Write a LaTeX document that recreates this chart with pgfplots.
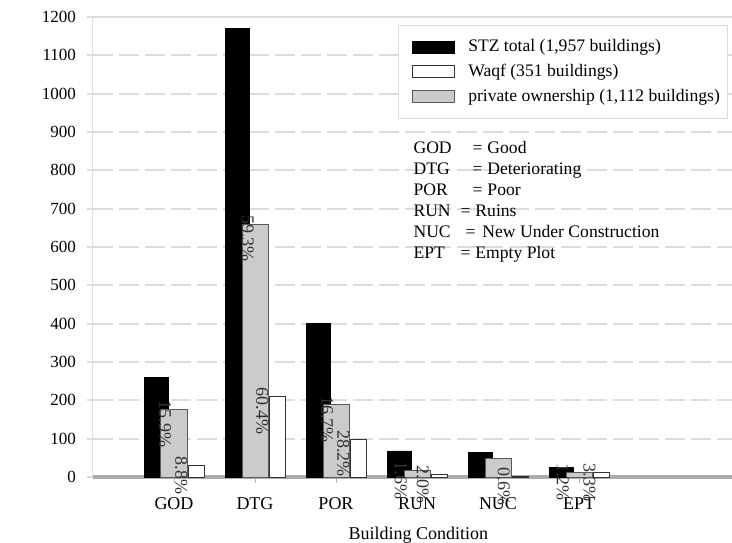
\documentclass[border=0pt]{standalone}
\usepackage{fontspec}
\setmainfont{Liberation Serif}
\usepackage{pgfplots}
\pgfplotsset{compat=1.18}
\definecolor{barGrey}{HTML}{CBCBCB}
\definecolor{gridGrey}{HTML}{DCDCDC}
\pgfplotsset{rectlegend/.style={legend image code/.code={\draw[##1] (5pt,-3pt) rectangle (26pt,3pt); \path[draw=none, fill=none] (0pt,0pt) -- (31pt,0pt);}}}
\begin{document}
\begin{tikzpicture}[pct/.style={rotate=-90, anchor=west, inner sep=0pt, font=\fontsize{9}{10}\selectfont, text=black!80}]
\useasboundingbox (-46.5pt,-32.5pt) rectangle (319.5pt,238.5pt);
\begin{axis}[
  at={(0pt,0pt)}, anchor=south west,
  scale only axis, width=319.5pt, height=230pt,
  clip=false,
  xmin=-1.0, xmax=6.889, ymin=0, ymax=1200,
  axis lines=left,
  axis line style={-},
  x axis line style={-, draw=gray!65, line width=2pt},
  y axis line style={-, draw=gridGrey, line width=0.5pt},
  xtick={0,1,2,3,4,5},
  xticklabels={GOD,DTG,POR,RUN,NUC,EPT},
  ytick={0,100,...,1100},
  extra y ticks={1200},
  extra y tick style={grid=major, major grid style={solid, draw=gridGrey, line width=1pt}},
  ymajorgrids,
  major grid style={draw=gridGrey, line width=1pt, dash pattern=on 10pt off 3pt},
  tick align=outside,
  major tick length=3pt,
  x tick style={draw=gray!60, line width=0.4pt},
  y tick style={draw=gridGrey, line width=1pt},
  /pgf/number format/assume math mode=true,
  /pgf/number format/1000 sep={},
  yticklabel style={font=\fontsize{8.5}{10}\selectfont, xshift=-2pt, /pgf/number format/1000 sep={}},
  xticklabel style={font=\fontsize{9}{10}\selectfont, yshift=-4pt},
  xlabel={Building Condition},
  xlabel style={font=\fontsize{9}{10}\selectfont, at={(axis description cs:0.509,0)}, anchor=center, yshift=-29pt},
  legend cell align=left,
  legend style={at={(0.477,0.983)}, anchor=north west, draw=gridGrey, line width=0.5pt,
    font=\fontsize{8.8}{10}\selectfont, inner xsep=2pt, inner ysep=5pt,
    nodes={inner sep=2pt}, row sep=0.75pt},
]
\addplot[ybar, bar width=0.296, bar shift=-0.222, fill=black, draw=black, line width=0.4pt, rectlegend]
  coordinates {(0,259) (1,1171) (2,401) (3,68) (4,65) (5,26)};
\addlegendentry{STZ total (1,957 buildings)}
\addplot[ybar, bar width=0.198, bar shift=0.272, fill=white, draw=black!80, line width=0.5pt, rectlegend]
  coordinates {(0,31) (1,211) (2,99) (3,7) (4,2) (5,12)};
\addlegendentry{Waqf (351 buildings)}
\addplot[ybar, bar width=0.333, bar shift=0.006, fill=barGrey, draw=black!65, line width=0.5pt, rectlegend]
  coordinates {(0,177) (1,660) (2,188) (3,18) (4,47) (5,13)};
\addlegendentry{private ownership (1,112 buildings)}

\node[pct] at ([yshift=4.5pt]axis cs:-0.11,177) {15.9\%};
\node[pct] at ([yshift=4.5pt]axis cs:0.09,31) {8.8\%};
\node[pct] at ([yshift=4.5pt]axis cs:0.91,660) {59.3\%};
\node[pct] at ([yshift=4.5pt]axis cs:1.09,211) {60.4\%};
\node[pct] at ([yshift=4.5pt]axis cs:1.89,188) {16.7\%};
\node[pct] at ([yshift=4.5pt]axis cs:2.09,99) {28.2\%};
\node[pct] at ([yshift=4.5pt]axis cs:2.8,18) {1.6\%};
\node[pct] at ([yshift=4.5pt]axis cs:3.07,7) {2.0\%};
\node[pct] at ([yshift=4.5pt]axis cs:4.07,2) {0.6\%};
\node[pct] at ([yshift=4.5pt]axis cs:4.8,13) {1.2\%};
\node[pct] at ([yshift=4.5pt]axis cs:5.13,12) {3.3\%};

\node[anchor=north west, align=left, inner sep=0pt, font=\fontsize{8.8}{10.5}\selectfont]
  at (axis description cs:0.501,0.731)
  {\makebox[29.5pt][l]{GOD}=\hspace{2.5pt}Good\\
   \makebox[29.5pt][l]{DTG}=\hspace{2.5pt}Deteriorating\\
   \makebox[29.5pt][l]{POR}=\hspace{2.5pt}Poor\\
   \makebox[23.5pt][l]{RUN}=\hspace{2.5pt}Ruins\\
   \makebox[26pt][l]{NUC}=\hspace{3.5pt}New Under Construction\\
   \makebox[23.5pt][l]{EPT}=\hspace{2.5pt}Empty Plot};
\end{axis}
\end{tikzpicture}
\end{document}
